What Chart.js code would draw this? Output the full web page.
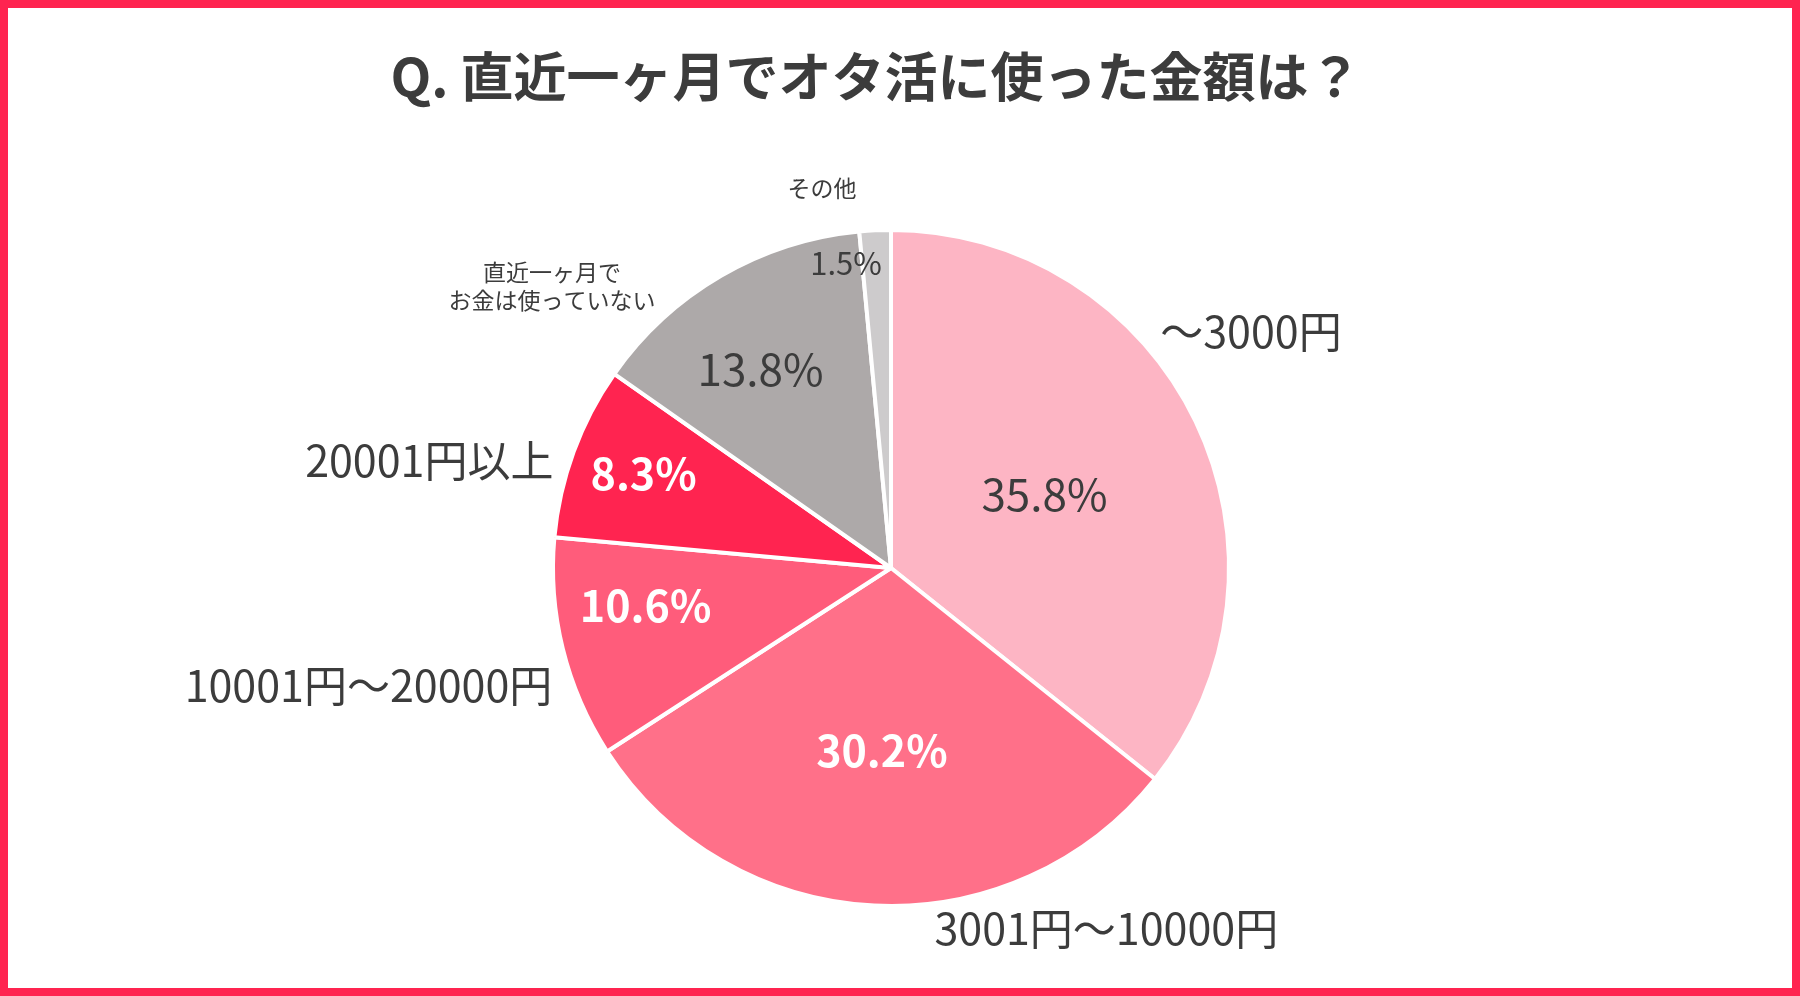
<!DOCTYPE html>
<html lang="ja">
<head>
<meta charset="utf-8">
<title>オタ活に使った金額</title>
<script src="https://cdn.jsdelivr.net/npm/chart.js@4"></script>
<style>
    html, body { margin: 0; padding: 0; background: #fff; }
    #wrap { position: relative; width: 1800px; height: 996px; }
    #frame {
        position: absolute; left: 0; top: 0; right: 0; bottom: 0;
        border: 8px solid #FF2450; pointer-events: none;
    }
</style>
</head>
<body>
<div id="wrap">
    <canvas id="pieChart" width="1800" height="996"></canvas>
    <div id="frame"></div>
</div>
<script>
const titleText = 'Q. 直近一ヶ月でオタ活に使った金額は？';
const categories = ['～3000円', '3001円～10000円', '10001円～20000円', '20001円以上', '直近一ヶ月で\nお金は使っていない', 'その他'];
const shares = [35.8, 30.2, 10.6, 8.3, 13.8, 1.5];
const sliceColors = ['#FDB5C4', '#FF7089', '#FF5C7B', '#FF2450', '#ADA9A9', '#CDCBCC'];

// label layout (in units of the pie radius, from the pie centre)
const pctSpots = [[0.454, -0.218], [-0.027, 0.540], [-0.726, 0.112], [-0.732, -0.280], [-0.386, -0.587], [-0.133, -0.903]];
const pctStyle = [
    { color: '#3c3c3c', font: '400 44px "Noto Sans CJK JP"' },
    { color: '#ffffff', font: '700 43px "Noto Sans CJK JP"' },
    { color: '#ffffff', font: '700 43px "Noto Sans CJK JP"' },
    { color: '#ffffff', font: '700 43px "Noto Sans CJK JP"' },
    { color: '#3c3c3c', font: '400 44px "Noto Sans CJK JP"' },
    { color: '#3c3c3c', font: '400 31px "Noto Sans CJK JP"' }
];
const nameSpots = [[1.065, -0.699], [0.637, 1.068], [-1.546, 0.348], [-1.366, -0.319], [-1.003, -0.835], [-0.204, -1.124]];
const nameSizes = [43, 43, 43, 43, 23, 23];

const textColor = '#3c3c3c';

const pieLabels = {
    id: 'pieLabels',
    afterDraw(chart) {
        const ctx = chart.ctx;
        const arcs = chart.getDatasetMeta(0).data;
        ctx.save();
        ctx.textAlign = 'center';
        ctx.textBaseline = 'middle';

        // title
        ctx.fillStyle = textColor;
        ctx.font = '700 53px "Noto Sans CJK JP"';
        ctx.fillText(titleText, 876, 77);

        arcs.forEach((arc, i) => {
            const r = arc.outerRadius;
            // percentage inside
            ctx.fillStyle = pctStyle[i].color;
            ctx.font = pctStyle[i].font;
            ctx.fillText(shares[i].toFixed(1) + '%', arc.x + pctSpots[i][0] * r, arc.y + pctSpots[i][1] * r);

            // category name outside
            ctx.fillStyle = textColor;
            ctx.font = '400 ' + nameSizes[i] + 'px "Noto Sans CJK JP"';
            const lines = categories[i].split('\n');
            const lh = 28;
            const cx = arc.x + nameSpots[i][0] * r;
            const cy = arc.y + nameSpots[i][1] * r - (lines.length - 1) * lh / 2;
            lines.forEach((line, k) => ctx.fillText(line, cx, cy + k * lh));
        });
        ctx.restore();
    }
};

new Chart(document.getElementById('pieChart'), {
    type: 'pie',
    data: {
        labels: categories,
        datasets: [{
            data: shares,
            backgroundColor: sliceColors,
            borderColor: '#ffffff',
            borderWidth: 4
        }]
    },
    options: {
        responsive: false,
        animation: false,
        layout: { padding: { top: 228, bottom: 88, left: 0, right: 18 } },
        plugins: {
            legend: { display: false },
            tooltip: { enabled: false },
            title: { display: false }
        }
    },
    plugins: [pieLabels]
});
</script>
</body>
</html>
